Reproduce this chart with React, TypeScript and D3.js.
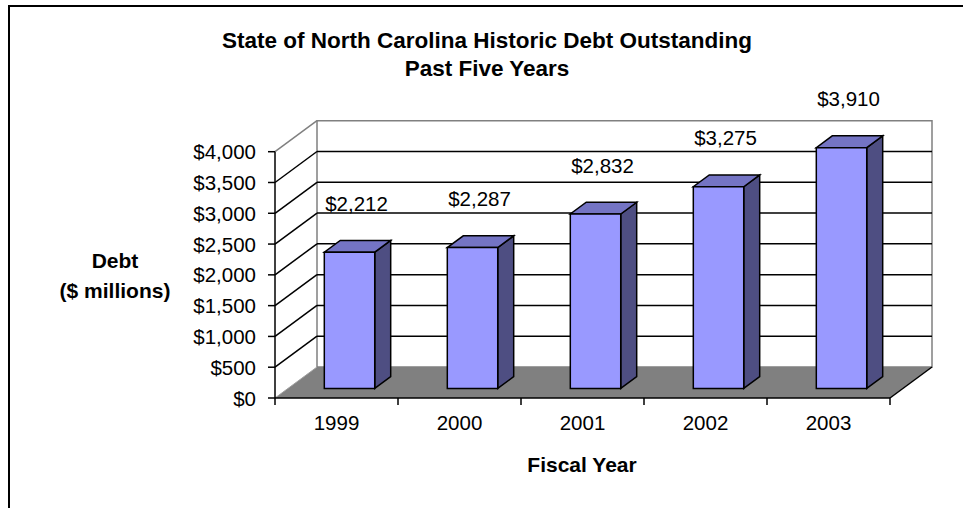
import React from "react";
import * as d3 from "d3";

const years = ["1999", "2000", "2001", "2002", "2003"];
const debt = [2212, 2287, 2832, 3275, 3910];
const yTicks = [0, 500, 1000, 1500, 2000, 2500, 3000, 3500, 4000];
const titleLines = ["State of North Carolina Historic Debt Outstanding", "Past Five Years"];
const yTitleLines = ["Debt", "($ millions)"];
const xTitle = "Fiscal Year";

const W = 963;
const H = 508;
const DX = 42;
const DY = 31;
const Z1 = 0.31;
const Z2 = 0.69;
const FONT = "'Liberation Sans', Arial, Helvetica, sans-serif";

export default function App() {
  const x = d3.scaleBand<string>().domain(years).range([275, 890]).paddingInner(0).paddingOuter(0);
  const y = d3.scaleLinear().domain([0, 4000]).range([398, 151.7]);
  const fmt = (v: number) => "$" + d3.format(",")(v);
  const proj = (px: number, v: number, z: number): [number, number] => [px + z * DX, y(v) - z * DY];
  const poly = (pts: [number, number][]) => pts.map((p) => p.join(",")).join(" ");
  const bw = x.bandwidth() * 0.41;
  const x0 = x.range()[0];
  const x1 = x.range()[1];
  const vMax = y.domain()[1];

  return (
    <svg width={W} height={H} style={{ position: "absolute", left: 0, top: 0, background: "#fff" }}>
      {/* outer border */}
      <rect x={9} y={6} width={1100} height={700} fill="none" stroke="#000" strokeWidth={2} />

      {/* title */}
      <text x={487} y={48} textAnchor="middle" fontFamily={FONT} fontWeight="bold" fontSize={22.5}>
        {titleLines[0]}
      </text>
      <text x={487} y={76} textAnchor="middle" fontFamily={FONT} fontWeight="bold" fontSize={22.5}>
        {titleLines[1]}
      </text>

      {/* back wall */}
      <polygon
        points={poly([proj(x0, 0, 1), proj(x1, 0, 1), proj(x1, vMax, 1), proj(x0, vMax, 1)])}
        fill="#fff"
        stroke="#808080"
        strokeWidth={1.5}
      />
      {/* gridlines on back wall and side wall */}
      {yTicks
        .filter((t) => t > 0 && t < vMax)
        .map((t) => (
          <g key={"g" + t}>
            <line
              x1={proj(x0, t, 1)[0]}
              y1={proj(x0, t, 1)[1]}
              x2={proj(x1, t, 1)[0]}
              y2={proj(x1, t, 1)[1]}
              stroke="#000"
              strokeWidth={1.5}
            />
            <line
              x1={proj(x0, t, 0)[0]}
              y1={proj(x0, t, 0)[1]}
              x2={proj(x0, t, 1)[0]}
              y2={proj(x0, t, 1)[1]}
              stroke="#000"
              strokeWidth={1.5}
            />
          </g>
        ))}
      {/* side wall top edge */}
      <line
        x1={proj(x0, vMax, 0)[0]}
        y1={proj(x0, vMax, 0)[1]}
        x2={proj(x0, vMax, 1)[0]}
        y2={proj(x0, vMax, 1)[1]}
        stroke="#808080"
        strokeWidth={1.5}
      />

      {/* floor */}
      <polygon points={poly([proj(x0, 0, 0), proj(x1, 0, 0), proj(x1, 0, 1), proj(x0, 0, 1)])} fill="#808080" />
      <line
        x1={proj(x1, 0, 0)[0]}
        y1={proj(x1, 0, 0)[1]}
        x2={proj(x1, 0, 1)[0]}
        y2={proj(x1, 0, 1)[1]}
        stroke="#000"
        strokeWidth={1.5}
      />
      <line
        x1={proj(x0, 0, 0)[0]}
        y1={proj(x0, 0, 0)[1]}
        x2={proj(x0, 0, 1)[0]}
        y2={proj(x0, 0, 1)[1]}
        stroke="#a0a0a0"
        strokeWidth={1}
      />

      {/* bars */}
      {years.map((yr, i) => {
        const v = debt[i];
        const cx = (x(yr) as number) + x.bandwidth() / 2;
        const xl = cx - bw / 2;
        const xr = cx + bw / 2;
        return (
          <g key={yr} stroke="#000" strokeWidth={1.5} strokeLinejoin="miter">
            <polygon points={poly([proj(xr, 0, Z1), proj(xr, 0, Z2), proj(xr, v, Z2), proj(xr, v, Z1)])} fill="#4E4E82" />
            <polygon points={poly([proj(xl, v, Z1), proj(xr, v, Z1), proj(xr, v, Z2), proj(xl, v, Z2)])} fill="#7474C4" />
            <polygon points={poly([proj(xl, 0, Z1), proj(xr, 0, Z1), proj(xr, v, Z1), proj(xl, v, Z1)])} fill="#9999FF" />
          </g>
        );
      })}

      {/* data labels */}
      {years.map((yr, i) => {
        const cx = (x(yr) as number) + x.bandwidth() / 2;
        return (
          <text key={"l" + yr} x={cx + 20} y={y(debt[i]) - 51} textAnchor="middle" fontFamily={FONT} fontSize={20.5}>
            {fmt(debt[i])}
          </text>
        );
      })}

      {/* y axis */}
      <line x1={x0} y1={y(0)} x2={x0} y2={y(vMax)} stroke="#000" strokeWidth={1.5} />
      {yTicks.map((t) => (
        <g key={"t" + t}>
          <line x1={x0 - 7} y1={y(t)} x2={x0} y2={y(t)} stroke="#000" strokeWidth={1.5} />
          <text x={x0 - 19} y={y(t) + 7.5} textAnchor="end" fontFamily={FONT} fontSize={20.5}>
            {fmt(t)}
          </text>
        </g>
      ))}

      {/* x axis */}
      <line x1={x0} y1={y(0)} x2={x1} y2={y(0)} stroke="#000" strokeWidth={1.5} />
      {[...years.map((yr) => x(yr) as number), x1].map((px, i) => (
        <line key={"xt" + i} x1={px} y1={y(0)} x2={px} y2={y(0) + 7} stroke="#000" strokeWidth={1.5} />
      ))}
      {years.map((yr) => (
        <text
          key={"xl" + yr}
          x={(x(yr) as number) + x.bandwidth() / 2}
          y={430}
          textAnchor="middle"
          fontFamily={FONT}
          fontSize={20.5}
        >
          {yr}
        </text>
      ))}

      {/* axis titles */}
      <text x={582} y={472} textAnchor="middle" fontFamily={FONT} fontWeight="bold" fontSize={21}>
        {xTitle}
      </text>
      <text x={115} y={268} textAnchor="middle" fontFamily={FONT} fontWeight="bold" fontSize={21}>
        {yTitleLines[0]}
      </text>
      <text x={115} y={298} textAnchor="middle" fontFamily={FONT} fontWeight="bold" fontSize={21}>
        {yTitleLines[1]}
      </text>
    </svg>
  );
}
